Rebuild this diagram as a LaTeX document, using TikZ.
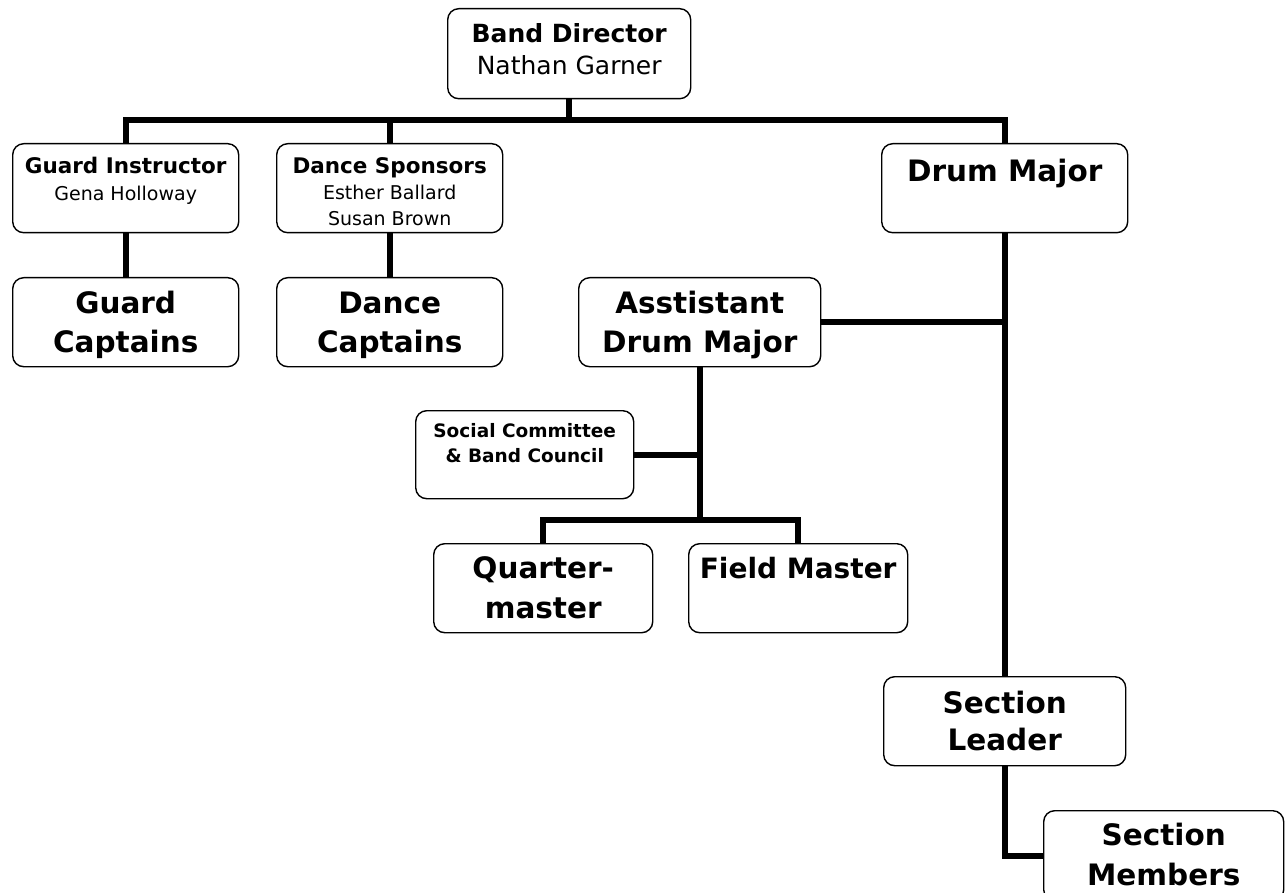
\documentclass[tikz,border=0pt]{standalone}
\usepackage{fontspec}
\setmainfont{DejaVu Sans}
\tikzset{>=latex}
\tikzset{
  box/.style={draw, rounded corners=11pt, line width=1.4pt, inner sep=0pt, align=center, anchor=north west},
  link/.style={line width=6pt},
}

\begin{document}
\begin{tikzpicture}[x=1pt, y=-1pt]
      \useasboundingbox (0,0) rectangle (1285,893);
      % top level
      \node[box, minimum width=243pt, text height=66pt, text depth=24pt, font=\fontsize{25}{32}\selectfont] (bd) at (447,8) {\textbf{Band Director}\\Nathan Garner};
      \node[box, minimum width=226pt, text height=57pt, text depth=32pt, font=\fontsize{19}{27}\selectfont] (gi) at (12,143) {{\fontsize{21.5}{27}\selectfont\bfseries Guard Instructor}\\Gena Holloway};
      \node[box, minimum width=226pt, text height=82pt, text depth=7pt, font=\fontsize{19}{26}\selectfont] (ds) at (276,143) {{\fontsize{21.5}{26}\selectfont\bfseries Dance Sponsors}\\Esther Ballard\\Susan Brown};
      \node[box, minimum width=246pt, text height=38pt, text depth=51pt, font=\fontsize{29.5}{39}\selectfont\bfseries] (dm) at (881,143) {Drum Major};
      % second level
      \node[box, minimum width=226pt, text height=75pt, text depth=14pt, font=\fontsize{29.5}{39}\selectfont\bfseries] (gc) at (12,277) {Guard\\Captains};
      \node[box, minimum width=226pt, text height=75pt, text depth=14pt, font=\fontsize{29.5}{39}\selectfont\bfseries] (dc) at (276,277) {Dance\\Captains};
      \node[box, minimum width=242pt, text height=75pt, text depth=14pt, font=\fontsize{29.5}{39}\selectfont\bfseries] (adm) at (578,277) {Asstistant\\Drum Major};
      \node[box, minimum width=218pt, text height=52pt, text depth=36pt, font=\fontsize{18.5}{25}\selectfont\bfseries] (sc) at (415,410) {Social Committee\\\& Band Council};
      \node[box, minimum width=219pt, text height=75pt, text depth=14pt, font=\fontsize{29.5}{40}\selectfont\bfseries] (qm) at (433,543) {Quarter-\\master};
      \node[box, minimum width=219pt, text height=35pt, text depth=54pt, font=\fontsize{28}{40}\selectfont\bfseries] (fm) at (688,543) {Field Master};
      \node[box, minimum width=242pt, text height=74pt, text depth=15pt, font=\fontsize{29.5}{37}\selectfont\bfseries] (sl) at (883,676) {Section\\Leader};
      \node[box, minimum width=240pt, text height=75pt, text depth=15pt, font=\fontsize{29.5}{40}\selectfont\bfseries] (sm) at (1043,810) {Section\\Members};
      % connectors
      \coordinate (bus) at (bd.south |- 0,120);
      \coordinate (sub) at (adm.south |- 0,520);
      \draw[link] (bd.south) -- (bus);
      \draw[link] (gi.north) |- (bus) -| (dm.north);
      \draw[link] (ds.north) -- (ds.north |- bus);
      \draw[link] (gi) -- (gc);
      \draw[link] (ds) -- (dc);
      \draw[link] (dm.south) -- (sl.north);
      \draw[link] (adm.east) -- (adm.east -| dm.south);
      \draw[link] (adm.south) -- (sub);
      \draw[link] (sc.east) -- (sc.east -| adm.south);
      \draw[link] (qm.north) |- (sub) -| (fm.north);
      \draw[link] (sl.south) |- (sm.west);
\end{tikzpicture}
\end{document}
